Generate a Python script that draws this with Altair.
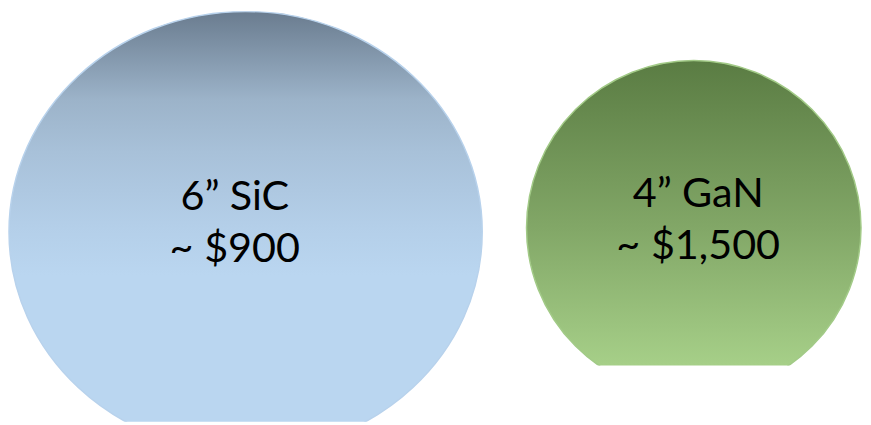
import altair as alt
import pandas as pd

# ---- data -------------------------------------------------------------
wafers = ["6” SiC", "4” GaN"]
diameters_in = [6, 4]
prices_usd = [900, 1500]

df = pd.DataFrame({"wafer": wafers, "diameter": diameters_in, "price": prices_usd})


def grad(stops):
    return alt.Gradient(
        gradient="linear", x1=0, x2=0, y1=0, y2=1,
        stops=[alt.GradientStop(offset=o, color=c) for o, c in stops],
    )


blue_fill = grad([(0, "#6a7c8f"), (0.2, "#9cb3c9"), (0.32, "#a8c1d9"),
                  (0.49, "#b4cfe9"), (0.6, "#bad6f0"), (1, "#bad6f0")])
green_fill = grad([(0, "#5a7c43"), (0.5, "#82a767"), (0.91, "#a6cf88"), (1, "#aad38c")])

size_scale = alt.Scale(domain=[4, 6], range=[340 ** 2, 481 ** 2], zero=False)

# slightly flattened disc (as drawn in the source slide)
ellipse = "M -1 0 A 1 0.931 0 1 0 1 0 A 1 0.931 0 1 0 -1 0 Z"


def panel(name, shape, fill, stroke, w, h, xalign, yalign, dx, dy):
    base = (
        alt.Chart(df)
        .transform_filter(alt.datum.wafer == name)
        .transform_calculate(label="datum.wafer + '\\n~ $' + format(datum.price, ',')")
        .encode(
            x=alt.X("wafer:N", axis=None, scale=alt.Scale(type="point", align=xalign)),
            y=alt.Y("wafer:N", axis=None, scale=alt.Scale(type="point", align=yalign)),
        )
    )
    circ = base.mark_point(
        shape=shape, filled=True, fill=fill, stroke=stroke, strokeWidth=1.5,
        opacity=1, clip=True,
    ).encode(size=alt.Size("diameter:Q", scale=size_scale, legend=None))
    txt = base.mark_text(
        font="Lato", fontSize=42, lineBreak="\n", lineHeight=53, color="black",
        dx=dx, dy=dy, baseline="middle", align="center", clip=True,
    ).encode(text="label:N")
    return alt.layer(circ, txt).properties(width=w, height=h)


left = panel(wafers[0], ellipse, blue_fill, "#b8d2ec", 488, 417,
             241.5 / 488, 224 / 417, -11, -35)
right = panel(wafers[1], "circle", green_fill, "#a2ca87", 344, 360,
              0.5, 220 / 360, 4.5, -34)

chart = (
    alt.hconcat(left, right, spacing=37)
    .properties(padding=0, background="white")
    .configure_view(stroke=None)
)

chart.save("out.html", embed_options={"renderer": "svg", "actions": False})
